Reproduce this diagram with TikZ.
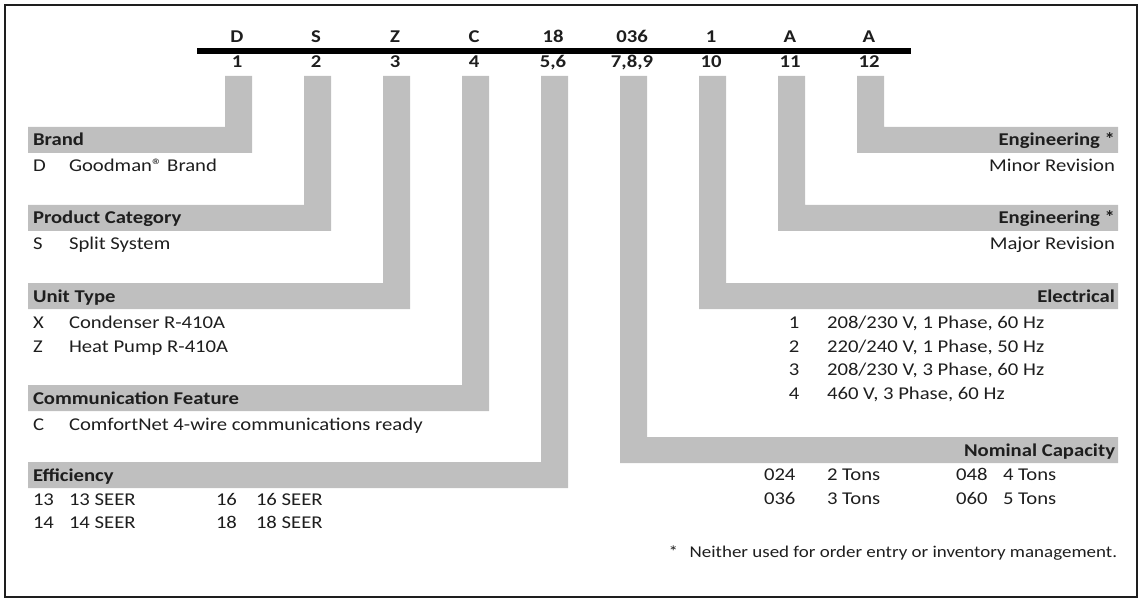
\documentclass[tikz,border=0pt]{standalone}
\usepackage{fontspec}
\setmainfont{Carlito}[FakeStretch=1.15]
\definecolor{barg}{RGB}{191,191,191}
\definecolor{ink}{RGB}{30,30,30}
\begin{document}
\begin{tikzpicture}[x=1pt,y=-1pt,
  every node/.style={inner sep=0pt,outer sep=0pt,text=ink,font=\fontsize{18}{22}\selectfont},
  txt/.style={anchor=base west},
  rtxt/.style={anchor=base east},
  ctxt/.style={anchor=base},
  hdr/.style={anchor=base west,font=\bfseries\fontsize{18}{22}\selectfont},
  rhdr/.style={anchor=base east,font=\bfseries\fontsize{18}{22}\selectfont},
  codetxt/.style={anchor=base,font=\bfseries\fontsize{18}{22}\selectfont},
  note/.style={anchor=base east,font=\fontsize{16.5}{20}\selectfont},
  frame/.style={draw=ink,line width=1.8pt},
  topbar/.style={draw=black,line width=5.5pt},
  grayL/.style={fill=barg}]
\useasboundingbox (0,0) rectangle (1143,604);
\draw[frame] (5,5) rectangle (1137,597);
% top bar
\coordinate (barL) at (197,51);
\coordinate (barR) at (911,51);
\draw[topbar] (barL) -- (barR);
% codes and positions
\foreach \c/\p [count=\i from 0] in {D/1,S/2,Z/3,C/4,18/{5,6},036/{7,8,9},1/10,A/11,A/12}{
  \node[codetxt] (code\i) at ({237+79*\i},43) {\c};
  \node[codetxt] (pos\i) at ({237+79*\i},68) {\p};
}
% left L-shapes
\foreach \k/\T in {0/127,1/205,2/283,3/385,4/462}{
  \fill[grayL] ({225+79*\k},76) -- ({252+79*\k},76) -- ({252+79*\k},\T+26) -- (28,\T+26) -- (28,\T) -- ({225+79*\k},\T) -- cycle;
}
% right L-shapes
\foreach \k/\T in {8/127,7/205,6/283,5/437}{
  \fill[grayL] ({225+79*\k},76) -- ({252+79*\k},76) -- ({252+79*\k},\T) -- (1118,\T) -- (1118,\T+26) -- ({225+79*\k},\T+26) -- cycle;
}
% left texts
\node[hdr] (brand) at (33,146) {Brand};
\node[txt] (brandD) at (33,172) {D};
\node[txt] (brandDt) at (69,172) {Goodman® Brand};
\node[hdr] (prod) at (33,224) {Product Category};
\node[txt] (prodS) at (33,250) {S};
\node[txt] (prodSt) at (69,250) {Split System};
\node[hdr] (unit) at (33,302) {Unit Type};
\node[txt] (unitX) at (33,328.5) {X};
\node[txt] (unitXt) at (69,328.5) {Condenser R-410A};
\node[txt] (unitZ) at (33,352) {Z};
\node[txt] (unitZt) at (69,352) {Heat Pump R-410A};
\node[hdr] (comm) at (33,404) {Communication Feature};
\node[txt] (commC) at (33,430) {C};
\node[txt] (commCt) at (69,430) {ComfortNet 4-wire communications ready};
\node[hdr] (eff) at (33,481) {Efficiency};
\node[txt] (e13) at (33,505) {13};
\node[txt] (e13t) at (69,505) {13 SEER};
\node[txt] (e16) at (216,505) {16};
\node[txt] (e16t) at (256,505) {16 SEER};
\node[txt] (e14) at (33,528.5) {14};
\node[txt] (e14t) at (69,528.5) {14 SEER};
\node[txt] (e18) at (216,528.5) {18};
\node[txt] (e18t) at (256,528.5) {18 SEER};
% right texts
\node[rhdr] (eng1) at (1115,146) {Engineering *};
\node[rtxt] (eng1t) at (1115,172) {Minor Revision};
\node[rhdr] (eng2) at (1115,224) {Engineering *};
\node[rtxt] (eng2t) at (1115,250) {Major Revision};
\node[rhdr] (elec) at (1115,302) {Electrical};
\foreach \n/\t/\y in {1/{208/230 V, 1 Phase, 60 Hz}/328.5,2/{220/240 V, 1 Phase, 50 Hz}/352,3/{208/230 V, 3 Phase, 60 Hz}/375.5,4/{460 V, 3 Phase, 60 Hz}/399}{
  \node[ctxt] (el\n) at (794,\y) {\n};
  \node[txt] (el\n t) at (827,\y) {\t};
}
\node[rhdr] (cap) at (1115,456) {Nominal Capacity};
\node[txt] (c024) at (764,480.5) {024};
\node[txt] (c024t) at (827,480.5) {2 Tons};
\node[txt] (c048) at (956,480.5) {048};
\node[txt] (c048t) at (1003,480.5) {4 Tons};
\node[txt] (c036) at (764,504) {036};
\node[txt] (c036t) at (827,504) {3 Tons};
\node[txt] (c060) at (956,504) {060};
\node[txt] (c060t) at (1003,504) {5 Tons};
\node[note] (fn) at (1117,557) {*\hspace{0.7em}Neither used for order entry or inventory management.};
\end{tikzpicture}
\end{document}
